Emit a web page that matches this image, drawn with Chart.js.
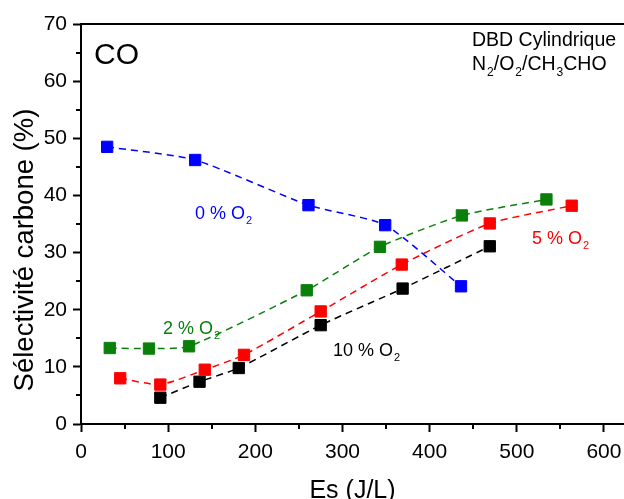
<!DOCTYPE html>
<html>
<head>
<meta charset="utf-8">
<script src="https://cdn.jsdelivr.net/npm/chart.js@4"></script>
<style>
  html, body { margin: 0; padding: 0; background: #fff; }
  #graf { display: block; }
</style>
</head>
<body>
<canvas id="graf" width="624" height="499" style="width:624px;height:499px"></canvas>
<script>
// données (Es en J/L, sélectivité CO en %)
const es0 = [30, 131, 261, 349, 436];
const co0 = [48.5, 46.2, 38.3, 34.8, 24.1];

const es2 = [33, 78, 124, 259, 343, 437, 534];
const co2 = [13.3, 13.2, 13.6, 23.4, 31.0, 36.5, 39.3];

const es5 = [45, 91, 142, 187, 275, 368, 469, 563];
const co5 = [8.0, 6.9, 9.5, 12.1, 19.7, 27.9, 35.1, 38.2];

const es10 = [91, 136, 181, 275, 369, 469];
const co10 = [4.6, 7.4, 9.8, 17.3, 23.7, 31.1];

const xTicks = [0, 100, 200, 300, 400, 500, 600];
const yTicks = [0, 10, 20, 30, 40, 50, 60, 70];

const POLICE = "'Liberation Sans', Arial, sans-serif";

function serie(xs, ys, couleur) {
  return {
    data: xs.map((x, i) => ({ x: x, y: ys[i] })),
    borderColor: couleur,
    backgroundColor: couleur,
    borderWidth: 1.5,
    borderDash: [7, 5],
    tension: 0.2,
    pointStyle: 'rect',
    pointRadius: 8,
    pointBorderWidth: 1,
    pointHoverRadius: 8
  };
}

// texte avec indices (O2, N2, CH3...)
function texteIndice(ctx, morceaux, x, y, taille, couleur) {
  ctx.fillStyle = couleur;
  ctx.textBaseline = 'alphabetic';
  ctx.textAlign = 'left';
  let cx = x;
  morceaux.forEach(([t, sub]) => {
    const s = sub ? Math.round(taille * 0.62) : taille;
    ctx.font = s + 'px ' + POLICE;
    if (sub) cx += 1;
    ctx.fillText(t, cx, sub ? y + taille * 0.3 : y);
    cx += ctx.measureText(t).width;
  });
}

const decor = {
  id: 'decor',
  afterDraw(chart) {
    const ctx = chart.ctx;
    const a = chart.chartArea;
    const sx = chart.scales.x, sy = chart.scales.y;
    ctx.save();

    // bord du haut
    ctx.strokeStyle = '#000';
    ctx.lineWidth = 2;
    ctx.beginPath();
    ctx.moveTo(a.left, a.top);
    ctx.lineTo(a.right, a.top);
    ctx.stroke();

    // petites graduations
    ctx.beginPath();
    for (let v = 50; v < 623; v += 100) {
      const px = Math.round(sx.getPixelForValue(v));
      ctx.moveTo(px, a.bottom);
      ctx.lineTo(px, a.bottom + 5);
    }
    for (let v = 5; v < 70; v += 10) {
      const py = Math.round(sy.getPixelForValue(v));
      ctx.moveTo(a.left, py);
      ctx.lineTo(a.left - 5, py);
    }
    ctx.stroke();

    // titres des axes
    ctx.fillStyle = '#000';
    ctx.font = '25px ' + POLICE;
    ctx.textAlign = 'center';
    ctx.textBaseline = 'alphabetic';
    ctx.fillText('Es (J/L)', (a.left + a.right) / 2, 498);
    ctx.save();
    ctx.translate(33, 250);
    ctx.rotate(-Math.PI / 2);
    ctx.font = '27.5px ' + POLICE;
    ctx.fillText('Sélectivité carbone (%)', 0, 0);
    ctx.restore();

    // annotations
    ctx.font = '30px ' + POLICE;
    ctx.textAlign = 'left';
    ctx.fillText('CO', 94, 64);
    texteIndice(ctx, [['DBD Cylindrique', false]], 472, 46, 19.5, '#000');
    texteIndice(ctx, [['N', false], ['2', true], ['/O', false], ['2', true], ['/CH', false], ['3', true], ['CHO', false]], 472, 70, 19.5, '#000');

    texteIndice(ctx, [['0 % O', false], ['2', true]], 195, 219, 18, '#0000ff');
    texteIndice(ctx, [['2 % O', false], ['2', true]], 163, 334, 18, '#0a800a');
    texteIndice(ctx, [['5 % O', false], ['2', true]], 532, 244, 18, '#ff0000');
    texteIndice(ctx, [['10 % O', false], ['2', true]], 333, 356, 18, '#000');
    ctx.restore();
  }
};

new Chart(document.getElementById('graf'), {
  type: 'line',
  data: {
    datasets: [
      serie(es0, co0, '#0000ff'),
      serie(es2, co2, '#0a800a'),
      serie(es5, co5, '#ff0000'),
      serie(es10, co10, '#000000')
    ]
  },
  options: {
    responsive: false,
    animation: false,
    layout: { autoPadding: false, padding: { top: 24, right: 0, left: 0, bottom: 0 } },
    plugins: { legend: { display: false }, tooltip: { enabled: false } },
    scales: {
      x: {
        type: 'linear',
        min: 0,
        max: 623,
        afterFit: s => { s.height = 75; s.paddingLeft = 0; s.paddingRight = 0; },
        afterBuildTicks: s => { s.ticks = xTicks.map(v => ({ value: v })); },
        grid: { display: true, drawOnChartArea: false, drawTicks: true, tickLength: 8, tickWidth: 2, tickColor: '#000' },
        border: { display: true, color: '#000', width: 2 },
        ticks: { color: '#000', font: { family: POLICE, size: 21 }, padding: 8, maxRotation: 0 }
      },
      y: {
        min: 0,
        max: 70,
        afterFit: s => { s.width = 81; s.paddingTop = 0; s.paddingBottom = 0; },
        afterBuildTicks: s => { s.ticks = yTicks.map(v => ({ value: v })); },
        grid: { display: true, drawOnChartArea: false, drawTicks: true, tickLength: 8, tickWidth: 2, tickColor: '#000' },
        border: { display: true, color: '#000', width: 2 },
        ticks: { color: '#000', font: { family: POLICE, size: 21 }, padding: 6 }
      }
    }
  },
  plugins: [decor]
});
</script>
</body>
</html>
